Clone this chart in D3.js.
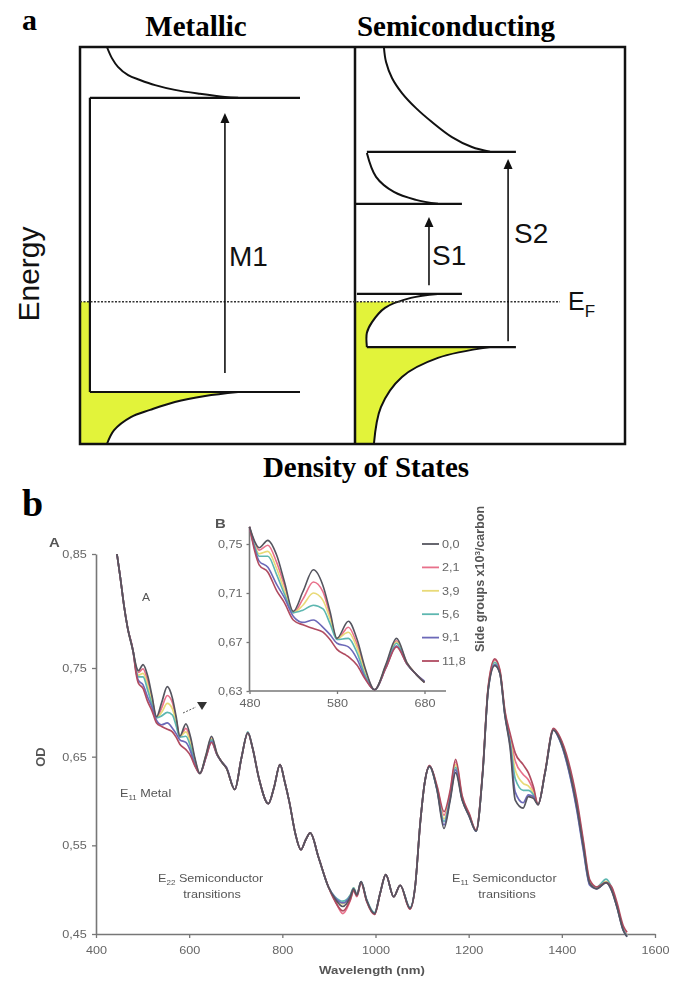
<!DOCTYPE html>
<html>
<head>
<meta charset="utf-8">
<script src="https://cdn.jsdelivr.net/npm/d3@7"></script>
<style>
  body { margin: 0; background: #fff; }
</style>
</head>
<body>
<div id="chart"></div>
<script>
// ---------- panel a : schematic density of states ----------
var fermiLevel = 35.8;
var metalLines = [[87.2, 3.6, 80], [13.1, 3.6, 80]];          // [energy, dos from, dos to]
var semiLines = [[73.6, 4.4, 59.6], [60.5, 0, 39.6], [37.8, 0.7, 39.6], [24.4, 4.4, 59.6]];
var metalTop = [[9.8,100],[11.6,97.2],[13.8,95.0],[17.5,92.9],[21.8,91.7],[27.3,90.4],[34.5,89.2],[43.6,88.2],[52.7,87.4],[57.5,87.2]];
var metalBottom = [[57.5,13.1],[45.5,12.1],[34.5,10.6],[25.5,8.6],[18.5,6.8],[12.4,3.5],[9.8,0]];
var semiTop = [[10.7,100],[11.5,96.2],[13.7,92.2],[17.4,88.4],[22.6,84.6],[28.5,81.1],[35.9,77.3],[43.3,74.8],[50,73.6]];
var semiS1up = [[4.4,73.3],[7.8,67.3],[14.4,63.5],[22.6,61.5],[30.7,60.5]];
var semiS1lo = [[30.7,37.8],[20.7,36.8],[11.1,34.3],[6.3,30.7],[4.4,28.0],[4.4,24.4]];
var semiS2lo = [[50,24.4],[30.7,21.7],[17.4,16.9],[9.6,9.3],[7.0,0]];
var transitions = [
  {name: "M1", side: "m", dos: 52.7, from: 17.9, to: 83.4},
  {name: "S1", side: "s", dos: 27.4, from: 40.0, to: 57.2},
  {name: "S2", side: "s", dos: 56.7, from: 25.9, to: 71.8}
];

// ---------- panel b : absorption spectra ----------
var wavelengths = [445,452,460,468,480, 486,491,501,511,520, 530,541,553,564,572, 580,593,603,612,623,
  636,648,660,670,680, 698,712,726,736,750, 770,782,795,805,815, 828,840,850,860,878,
  899,913,930,946,953, 960,969,981,998,1010, 1022,1039,1053,1074,1085, 1096,1106,1116,1132,1147,
  1160,1172,1186,1201,1216, 1230,1242,1256,1267,1278, 1289,1300,1317,1328,1339, 1349,1364,1382,1396,1414,
  1432,1446,1460,1475,1495, 1507,1518,1532,1540];

var od00 = [0.850,0.830,0.805,0.785,0.764, 0.752,0.747,0.753,0.741,0.719, 0.695,0.711,0.729,0.716,0.695,
  0.673,0.687,0.672,0.649,0.631, 0.652,0.673,0.653,0.644,0.637, 0.613,0.648,0.677,0.660,0.625,
  0.597,0.615,0.641,0.622,0.599, 0.563,0.545,0.556,0.564,0.536, 0.503,0.490,0.481,0.492,0.501,
  0.494,0.509,0.488,0.473,0.496, 0.517,0.492,0.505,0.479,0.503, 0.575,0.622,0.639,0.613,0.569,
  0.600,0.632,0.601,0.583,0.566, 0.631,0.726,0.752,0.744,0.696, 0.660,0.601,0.592,0.605,0.603,
  0.596,0.632,0.680,0.669,0.639, 0.594,0.549,0.507,0.501,0.508, 0.499,0.481,0.454,0.447];
var od21 = [0.850,0.830,0.805,0.785,0.764, 0.751,0.745,0.749,0.735,0.716, 0.694,0.705,0.719,0.711,0.692,
  0.672,0.682,0.668,0.647,0.631, 0.651,0.671,0.653,0.644,0.637, 0.613,0.648,0.677,0.660,0.625,
  0.597,0.615,0.641,0.622,0.599, 0.563,0.545,0.556,0.564,0.536, 0.503,0.488,0.473,0.488,0.499,
  0.492,0.508,0.487,0.472,0.496, 0.517,0.492,0.505,0.478,0.503, 0.575,0.622,0.640,0.616,0.584,
  0.608,0.644,0.604,0.585,0.567, 0.632,0.728,0.757,0.746,0.699, 0.673,0.645,0.630,0.624,0.612,
  0.596,0.632,0.681,0.671,0.642, 0.598,0.553,0.509,0.502,0.509, 0.501,0.483,0.456,0.449];
var od39 = [0.850,0.830,0.805,0.785,0.764, 0.749,0.742,0.744,0.730,0.712, 0.694,0.700,0.710,0.704,0.689,
  0.673,0.678,0.665,0.645,0.631, 0.651,0.670,0.653,0.644,0.637, 0.613,0.648,0.677,0.660,0.625,
  0.597,0.615,0.641,0.622,0.599, 0.563,0.545,0.556,0.564,0.536, 0.503,0.490,0.484,0.494,0.502,
  0.494,0.509,0.488,0.473,0.496, 0.517,0.492,0.505,0.479,0.503, 0.575,0.622,0.639,0.614,0.580,
  0.605,0.641,0.603,0.584,0.566, 0.631,0.727,0.755,0.745,0.698, 0.670,0.635,0.620,0.617,0.609,
  0.596,0.632,0.680,0.670,0.641, 0.596,0.551,0.508,0.502,0.509, 0.500,0.482,0.455,0.448];
var od56 = [0.850,0.830,0.805,0.785,0.764, 0.748,0.740,0.740,0.725,0.709, 0.694,0.696,0.700,0.697,0.685,
  0.672,0.673,0.661,0.643,0.631, 0.650,0.669,0.652,0.644,0.637, 0.613,0.648,0.678,0.660,0.625,
  0.597,0.615,0.641,0.622,0.599, 0.563,0.545,0.556,0.564,0.536, 0.503,0.492,0.487,0.494,0.502,
  0.494,0.509,0.489,0.474,0.496, 0.517,0.492,0.505,0.480,0.503, 0.575,0.622,0.639,0.613,0.577,
  0.603,0.638,0.602,0.584,0.566, 0.631,0.726,0.755,0.745,0.697, 0.667,0.625,0.612,0.612,0.607,
  0.596,0.632,0.681,0.668,0.637, 0.592,0.547,0.506,0.503,0.512, 0.502,0.482,0.455,0.448];
var od91 = [0.850,0.830,0.805,0.785,0.764, 0.746,0.736,0.731,0.717,0.706, 0.691,0.686,0.688,0.682,0.676,
  0.669,0.666,0.656,0.641,0.631, 0.649,0.667,0.652,0.644,0.638, 0.613,0.648,0.677,0.660,0.625,
  0.597,0.615,0.641,0.622,0.599, 0.563,0.545,0.556,0.564,0.536, 0.503,0.491,0.485,0.493,0.501,
  0.494,0.509,0.488,0.473,0.496, 0.517,0.492,0.505,0.479,0.503, 0.575,0.622,0.639,0.613,0.573,
  0.602,0.635,0.602,0.583,0.566, 0.631,0.726,0.753,0.744,0.696, 0.663,0.610,0.598,0.607,0.605,
  0.596,0.632,0.680,0.668,0.636, 0.590,0.545,0.505,0.501,0.508, 0.499,0.481,0.454,0.447];
var od118 = [0.850,0.830,0.805,0.785,0.764, 0.744,0.733,0.727,0.712,0.702, 0.688,0.684,0.681,0.678,0.672,
  0.664,0.658,0.651,0.640,0.631, 0.649,0.666,0.652,0.644,0.637, 0.613,0.648,0.677,0.660,0.625,
  0.597,0.615,0.641,0.622,0.599, 0.563,0.545,0.556,0.564,0.536, 0.503,0.487,0.476,0.489,0.499,
  0.493,0.508,0.487,0.472,0.496, 0.517,0.492,0.505,0.478,0.503, 0.575,0.622,0.640,0.617,0.588,
  0.611,0.647,0.606,0.586,0.567, 0.633,0.729,0.758,0.748,0.701, 0.676,0.654,0.641,0.632,0.616,
  0.596,0.633,0.682,0.672,0.645, 0.602,0.556,0.511,0.503,0.508, 0.503,0.486,0.459,0.452];

var seriesNames = ["0,0", "2,1", "3,9", "5,6", "9,1", "11,8"];
var seriesColors = ["#55555f", "#e8718b", "#e9da78", "#5db7b0", "#6c69b8", "#b04c60"];
var seriesValues = [od00, od21, od39, od56, od91, od118];

var xTicks = [400, 600, 800, 1000, 1200, 1400, 1600];
var yTicks = [0.45, 0.55, 0.65, 0.75, 0.85];
var insetXTicks = [480, 580, 680];
var insetYTicks = [0.63, 0.67, 0.71, 0.75];

var serif = "'Liberation Serif', 'Times New Roman', serif";
var sans = "'Liberation Sans', Arial, sans-serif";
var comma = function(d) { return d3.format(".2f")(d).replace(".", ","); };
var stretch = "scale(1.15,1)";   // the pasted spectrum is a little wider than tall

var svg = d3.select("#chart").append("svg")
    .attr("width", 678)
    .attr("height", 982);
var defs = svg.append("defs");

// ================= panel a =================
var yE = d3.scaleLinear().domain([0, 100]).range([444, 47]);
var xMet = d3.scaleLinear().domain([0, 100]).range([80, 355]);
var xSem = d3.scaleLinear().domain([0, 100]).range([355, 625]);

function curvePath(sc, pts) {
    return d3.line()
        .x(function(d) { return sc(d[0]); })
        .y(function(d) { return yE(d[1]); })
        .curve(d3.curveCatmullRom.alpha(0.5))(pts);
}
function pt(sc, d, e) { return sc(d) + "," + yE(e); }

var a = svg.append("g");
var yellow = "#e2f33a";

// filled (occupied) states
a.append("path")
    .attr("d", "M" + pt(xMet, 0, fermiLevel) + "L" + pt(xMet, 3.6, fermiLevel) +
        "L" + pt(xMet, 3.6, metalLines[1][0]) + curvePath(xMet, metalBottom).replace(/^M/, "L") +
        "L" + pt(xMet, 0, 0) + "Z")
    .attr("fill", yellow);

defs.append("clipPath").attr("id", "belowEF")
    .append("rect")
    .attr("x", 355).attr("y", yE(fermiLevel))
    .attr("width", 270).attr("height", yE(0) - yE(fermiLevel));

a.append("path")
    .attr("clip-path", "url(#belowEF)")
    .attr("d", "M" + pt(xSem, 0, semiLines[2][0]) + curvePath(xSem, semiS1lo).replace(/^M/, "L") +
        curvePath(xSem, semiS2lo).replace(/^M/, "L") + "L" + pt(xSem, 0, 0) + "Z")
    .attr("fill", yellow);

// frame
a.append("rect")
    .attr("x", 80).attr("y", 47).attr("width", 545).attr("height", 397)
    .attr("fill", "none").attr("stroke", "#111").attr("stroke-width", 2.5);
a.append("line")
    .attr("x1", 355).attr("x2", 355).attr("y1", 47).attr("y2", 444)
    .attr("stroke", "#111").attr("stroke-width", 2.5);

// DOS curves
[[xMet, metalTop], [xMet, metalBottom], [xSem, semiTop], [xSem, semiS1up], [xSem, semiS1lo], [xSem, semiS2lo]]
    .forEach(function(c) {
        a.append("path")
            .attr("d", curvePath(c[0], c[1]))
            .attr("fill", "none").attr("stroke", "#111").attr("stroke-width", 2);
    });

// level lines
a.selectAll(".mlev").data(metalLines).enter().append("line")
    .attr("x1", function(d) { return xMet(d[1]); })
    .attr("x2", function(d) { return xMet(d[2]); })
    .attr("y1", function(d) { return yE(d[0]); })
    .attr("y2", function(d) { return yE(d[0]); })
    .attr("stroke", "#111").attr("stroke-width", 2.2);
a.append("line")
    .attr("x1", xMet(3.6)).attr("x2", xMet(3.6))
    .attr("y1", yE(metalLines[0][0])).attr("y2", yE(metalLines[1][0]))
    .attr("stroke", "#111").attr("stroke-width", 2.2);
a.selectAll(".slev").data(semiLines).enter().append("line")
    .attr("x1", function(d) { return xSem(d[1]); })
    .attr("x2", function(d) { return xSem(d[2]); })
    .attr("y1", function(d) { return yE(d[0]); })
    .attr("y2", function(d) { return yE(d[0]); })
    .attr("stroke", "#111").attr("stroke-width", 2.2);

// Fermi level
a.append("line")
    .attr("x1", 80).attr("x2", 560)
    .attr("y1", yE(fermiLevel)).attr("y2", yE(fermiLevel))
    .attr("stroke", "#333").attr("stroke-width", 1.5)
    .attr("stroke-dasharray", "2,1.5");

// transition arrows
transitions.forEach(function(t) {
    var sc = t.side == "m" ? xMet : xSem;
    var x = sc(t.dos), y0 = yE(t.from), y1 = yE(t.to);
    a.append("line")
        .attr("x1", x).attr("x2", x).attr("y1", y0).attr("y2", y1 + 8)
        .attr("stroke", "#111").attr("stroke-width", 1.6);
    a.append("path")
        .attr("d", "M" + (x - 4.5) + "," + (y1 + 10) + "L" + x + "," + y1 + "L" + (x + 4.5) + "," + (y1 + 10) + "Z")
        .attr("fill", "#111");
});

a.append("text").attr("x", 229).attr("y", 266).text("M1")
    .attr("font-family", sans).attr("font-size", "28px").attr("fill", "#111");
a.append("text").attr("x", 432).attr("y", 265).text("S1")
    .attr("font-family", sans).attr("font-size", "28px").attr("fill", "#111");
a.append("text").attr("x", 514).attr("y", 243).text("S2")
    .attr("font-family", sans).attr("font-size", "28px").attr("fill", "#111");
var ef = a.append("text").attr("x", 568).attr("y", 310)
    .attr("font-family", sans).attr("fill", "#111");
ef.append("tspan").attr("font-size", "25px").text("E");
ef.append("tspan").attr("font-size", "17px").attr("dy", 7).text("F");

a.append("text")
    .attr("transform", "translate(39,274) rotate(-90)")
    .attr("text-anchor", "middle")
    .attr("font-family", sans).attr("font-size", "30px").attr("fill", "#111")
    .text("Energy");

a.append("text").attr("x", 22).attr("y", 30).text("a")
    .attr("font-family", serif).attr("font-weight", "bold").attr("font-size", "30px");
a.append("text").attr("x", 196).attr("y", 36).attr("text-anchor", "middle").text("Metallic")
    .attr("font-family", serif).attr("font-weight", "bold").attr("font-size", "29px");
a.append("text").attr("x", 456).attr("y", 36).attr("text-anchor", "middle").text("Semiconducting")
    .attr("font-family", serif).attr("font-weight", "bold").attr("font-size", "29px");
a.append("text").attr("x", 366).attr("y", 477).attr("text-anchor", "middle").text("Density of States")
    .attr("font-family", serif).attr("font-weight", "bold").attr("font-size", "29px");

// ================= panel b =================
svg.append("text").attr("x", 22).attr("y", 516).text("b")
    .attr("font-family", serif).attr("font-weight", "bold").attr("font-size", "38px");

defs.append("filter").attr("id", "soft")
    .append("feGaussianBlur").attr("stdDeviation", 0.45);

var b = svg.append("g").attr("filter", "url(#soft)");
var grey = "#666";

var xW = d3.scaleLinear().domain([400, 1600]).range([96, 655]);
var yOD = d3.scaleLinear().domain([0.45, 0.75, 0.85]).range([934, 668, 554]);

var xAxis = d3.axisBottom(xW).tickValues(xTicks).tickFormat(d3.format("d"))
    .tickSize(4).tickSizeOuter(0).tickPadding(8);
var yAxis = d3.axisLeft(yOD).tickValues(yTicks).tickFormat(comma)
    .tickSize(4).tickSizeOuter(0).tickPadding(4);

function styleAxis(g) {
    g.select(".domain").attr("stroke", "#777").attr("stroke-width", 1.6);
    g.selectAll(".tick line").attr("stroke", "#777").attr("stroke-width", 1.3);
    g.selectAll(".tick text").attr("fill", grey).attr("font-family", sans)
        .attr("font-size", "11px").attr("transform", stretch);
}

b.append("g").attr("transform", "translate(0,934)").call(xAxis).call(styleAxis);
b.append("g").attr("transform", "translate(96,0)").call(yAxis).call(styleAxis);

var mainLine = d3.line()
    .x(function(d, i) { return xW(wavelengths[i]); })
    .y(function(d) { return yOD(d); })
    .curve(d3.curveMonotoneX);

var drawOrder = [1, 2, 3, 4, 5, 0];
drawOrder.forEach(function(k) {
    b.append("path")
        .attr("d", mainLine(seriesValues[k]))
        .attr("fill", "none")
        .attr("stroke", seriesColors[k])
        .attr("stroke-width", 1.7);
});

// inset B
var xIn = d3.scaleLinear().domain([480, 680]).range([249.5, 424.5]);
var yIn = d3.scaleLinear().domain([0.63, 0.75]).range([691, 544]);
var insetIdx = d3.range(wavelengths.length).filter(function(i) {
    return wavelengths[i] >= 480 && wavelengths[i] <= 680;
});

var inX = d3.axisBottom(xIn).tickValues(insetXTicks).tickSize(3).tickPadding(5);
var inY = d3.axisLeft(yIn).tickValues(insetYTicks).tickFormat(comma).tickSize(3).tickPadding(3);
var gInX = b.append("g").attr("transform", "translate(0,691)").call(inX).call(styleAxis);
var gInY = b.append("g").attr("transform", "translate(249.5,0)").call(inY).call(styleAxis);
gInX.select(".domain").remove();
gInY.select(".domain").remove();
b.append("line").attr("x1", 249.5).attr("x2", 249.5).attr("y1", 527).attr("y2", 691)
    .attr("stroke", "#777").attr("stroke-width", 1.6);
b.append("line").attr("x1", 249.5).attr("x2", 446).attr("y1", 691).attr("y2", 691)
    .attr("stroke", "#777").attr("stroke-width", 1.6);

drawOrder.forEach(function(k) {
    var vals = seriesValues[k];
    b.append("path")
        .attr("d", d3.line()
            .x(function(i) { return xIn(wavelengths[i]); })
            .y(function(i) { return yIn(vals[i]); })
            .curve(d3.curveMonotoneX)(insetIdx))
        .attr("fill", "none")
        .attr("stroke", seriesColors[k])
        .attr("stroke-width", 1.6);
});

// legend
var leg = b.selectAll(".leg").data(seriesNames).enter().append("g")
    .attr("transform", function(d, i) { return "translate(422," + (544 + i * 23.4) + ")"; });
leg.append("line").attr("x1", 0).attr("x2", 17)
    .attr("stroke", function(d, i) { return seriesColors[i]; }).attr("stroke-width", 1.8);
leg.append("text").attr("transform", "translate(20,0) " + stretch).attr("dy", "0.35em")
    .text(function(d) { return d; })
    .attr("font-family", sans).attr("font-size", "11px").attr("fill", grey);

var side = b.append("text")
    .attr("transform", "translate(484,579) rotate(-90)")
    .attr("text-anchor", "middle")
    .attr("font-family", sans).attr("font-weight", "bold").attr("font-size", "12.5px").attr("fill", "#555");
side.append("tspan").text("Side groups x10");
side.append("tspan").attr("dy", -4).attr("font-size", "8px").text("3");
side.append("tspan").attr("dy", 4).text("/carbon");

// annotations
function label(x, y, txt, size, weight, anchor) {
    return b.append("text").attr("transform", "translate(" + x + "," + y + ") " + stretch).text(txt)
        .attr("font-family", sans).attr("font-size", size).attr("font-weight", weight || "normal")
        .attr("text-anchor", anchor || "start").attr("fill", "#555");
}
label(49, 547, "A", "13px", "bold");
label(146, 601, "A", "10.5px", "normal", "middle");
label(215, 528, "B", "13px", "bold");

function subLabel(x, y, sub, rest) {
    var t = b.append("text").attr("transform", "translate(" + x + "," + y + ") " + stretch)
        .attr("font-family", sans).attr("font-size", "11px").attr("fill", "#555");
    t.append("tspan").text("E");
    t.append("tspan").attr("dy", 3).attr("font-size", "7px").text(sub);
    t.append("tspan").attr("dy", -3).text(" " + rest);
}
subLabel(120, 797, "11", "Metal");
subLabel(158, 882, "22", "Semiconductor");
label(212, 898, "transitions", "11px", "normal", "middle");
subLabel(452, 882, "11", "Semiconductor");
label(507, 898, "transitions", "11px", "normal", "middle");

label(372, 974, "Wavelength (nm)", "11.5px", "bold", "middle");
b.append("text")
    .attr("transform", "translate(45,757) rotate(-90)")
    .attr("text-anchor", "middle")
    .attr("font-family", sans).attr("font-weight", "bold").attr("font-size", "13px").attr("fill", "#555")
    .text("OD");

// pointer to the 580 nm peak
b.append("line").attr("x1", 183).attr("y1", 713).attr("x2", 196).attr("y2", 707)
    .attr("stroke", "#555").attr("stroke-width", 1).attr("stroke-dasharray", "2,1.5");
b.append("path").attr("d", "M197,702L207,702L202,710Z").attr("fill", "#333");
</script>
</body>
</html>
